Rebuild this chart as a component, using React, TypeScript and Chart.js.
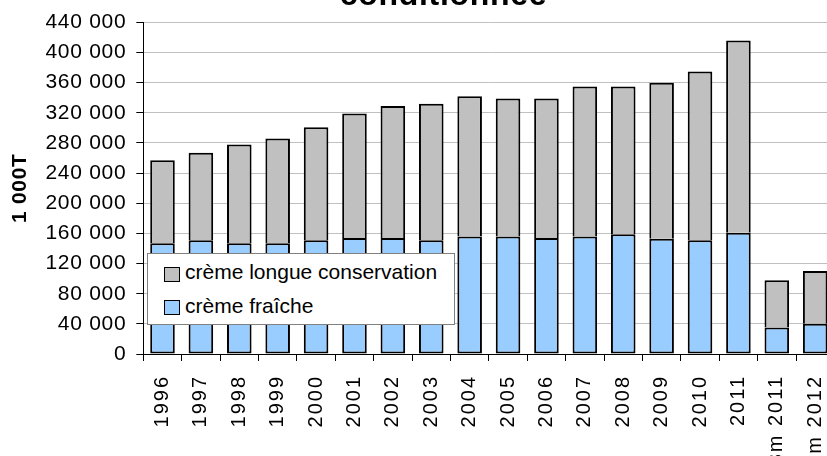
import React, { useEffect, useRef } from 'react';
import { Chart, registerables } from 'chart.js';

Chart.register(...registerables);

const categories = ['1996', '1997', '1998', '1999', '2000', '2001', '2002', '2003', '2004', '2005', '2006', '2007', '2008', '2009', '2010', '2011', '3m 2011', '3m 2012'];
const cremeFraiche = [147000, 151000, 147000, 147000, 151000, 154000, 154000, 151000, 156000, 156000, 154000, 156000, 159000, 153000, 151000, 161000, 35000, 40000];
const cremeLongue = [110000, 116000, 131000, 139000, 150000, 165000, 175000, 181000, 186000, 183000, 185000, 199000, 196000, 207000, 224000, 255000, 63000, 70000];
const titleText = 'conditionnée';
const yAxisTitle = '1 000T';
const labelFraiche = 'crème fraîche';
const labelLongue = 'crème longue conservation';
const yMin = 0;
const yMax = 440000;
const yStep = 40000;

const FONT = "'Liberation Sans', Arial, sans-serif";

function fmt(v: number): string {
  return String(v).replace(/\B(?=(\d{3})+(?!\d))/g, ' ');
}

const spacingPlugin = {
  id: 'letterSpacingPlugin',
  beforeDraw(chart: any) {
    (chart.ctx as any).letterSpacing = '0.7px';
  },
  afterDatasetsDraw(chart: any) {
    (chart.ctx as any).letterSpacing = '2px';
  },
  afterDraw(chart: any) {
    (chart.ctx as any).letterSpacing = '0px';
  },
};

export default function App() {
  const ref = useRef<HTMLCanvasElement>(null);
  useEffect(() => {
    document.body.style.margin = '0';
    const chart = new Chart(ref.current!, {
      type: 'bar',
      plugins: [spacingPlugin],
      data: {
        labels: categories,
        datasets: [
          {
            label: labelFraiche,
            data: cremeFraiche,
            backgroundColor: '#99CCFF',
            borderColor: '#000000',
            borderWidth: 2,
            borderSkipped: false,
            barPercentage: 0.64,
            categoryPercentage: 1,
          },
          {
            label: labelLongue,
            data: cremeLongue,
            backgroundColor: '#C0C0C0',
            borderColor: '#000000',
            borderWidth: 2,
            borderSkipped: 'start',
            barPercentage: 0.64,
            categoryPercentage: 1,
          },
        ],
      },
      options: {
        animation: false,
        responsive: false,
        devicePixelRatio: 1,
        layout: { padding: 0 },
        plugins: {
          legend: { display: false },
          tooltip: { enabled: false },
          title: {
            display: true,
            text: titleText,
            color: '#000',
            font: { family: FONT, size: 32, weight: 'bold' },
            padding: { top: 0, bottom: 7 },
          },
        },
        scales: {
          x: {
            stacked: true,
            grid: { display: true, drawOnChartArea: false, offset: true, tickLength: 7, tickColor: '#000', tickWidth: 1 },
            border: { color: '#000', width: 1 },
            ticks: {
              autoSkip: false,
              maxRotation: 90,
              minRotation: 90,
              color: '#000',
              padding: 14,
              z: 1,
              font: { family: FONT, size: 20 },
            },
            afterFit: (s: any) => { s.height = 113; },
          },
          y: {
            stacked: true,
            min: yMin,
            max: yMax,
            ticks: {
              stepSize: yStep,
              color: '#000',
              padding: 10,
              font: { family: FONT, size: 21 },
              callback: (v: any) => fmt(Number(v)),
            },
            grid: { color: '#C0C0C0', lineWidth: 1, tickColor: '#000', tickLength: 7 },
            border: { color: '#000', width: 1 },
            title: {
              display: true,
              text: yAxisTitle,
              color: '#000',
              font: { family: FONT, size: 21, weight: 'bold' },
              padding: { top: 8, bottom: 0 },
            },
            afterFit: (s: any) => { s.width = 143.3; },
          },
          yRightSpace: {
            position: 'right',
            display: true,
            grid: { display: false, drawTicks: false },
            border: { display: false },
            ticks: { display: false },
            afterFit: (s: any) => { s.width = 52.6; },
          },
        },
      },
    });
    return () => chart.destroy();
  }, []);

  const swatch = (top: number, color: string): React.CSSProperties => ({
    position: 'absolute', left: 16, top, width: 16, height: 15, boxSizing: 'border-box',
    border: '1.5px solid #000', background: color,
  });
  const text = (top: number): React.CSSProperties => ({
    position: 'absolute', left: 37, top, lineHeight: '24px', fontSize: 21, fontFamily: FONT,
    color: '#000', whiteSpace: 'nowrap',
  });

  return (
    <div style={{ position: 'fixed', left: 0, top: 0, width: 827, height: 456, overflow: 'hidden', background: '#fff' }}>
      <canvas ref={ref} width={887} height={490} style={{ position: 'absolute', left: 0, top: -23, width: 887, height: 490 }} />
      <div style={{ position: 'absolute', left: 147, top: 253, width: 308, height: 72, boxSizing: 'border-box', border: '1px solid #808080', background: '#fff' }}>
        <div style={swatch(13, '#C0C0C0')} />
        <div style={text(6)}>{labelLongue}</div>
        <div style={swatch(46, '#99CCFF')} />
        <div style={text(40)}>{labelFraiche}</div>
      </div>
    </div>
  );
}
